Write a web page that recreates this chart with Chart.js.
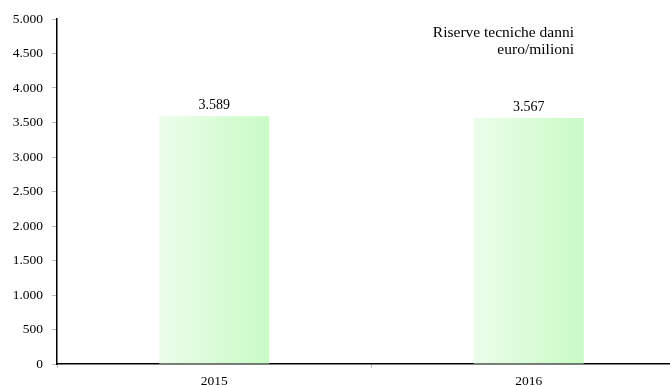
<!DOCTYPE html>
<html>
<head>
<meta charset="utf-8">
<script src="https://cdn.jsdelivr.net/npm/chart.js@4.4.0/dist/chart.umd.min.js"></script>
<style>
  html, body { margin: 0; padding: 0; background: #fff; overflow: hidden; }
  #wrap { position: relative; width: 690px; height: 385px; }
</style>
</head>
<body>
<div id="wrap"><canvas id="riserve" width="690" height="385"></canvas></div>
<script>
var anni = ['2015', '2016'];
var riserve = [3589, 3567];
var titolo = ['Riserve tecniche danni', 'euro/milioni'];

// 3589 -> "3.589"
function migliaia(v) {
	return String(Math.round(v)).replace(/\B(?=(\d{3})+(?!\d))/g, '.');
}

var FONT = 'Liberation Serif';

// gradiente orizzontale per ogni barra
function sfumatura(c) {
	var chart = c.chart;
	if (!chart.chartArea) return '#d8fbd8';
	var x = chart.scales.x.getPixelForValue(c.dataIndex);
	var w = chart.scales.x.width / anni.length * 0.35;
	var g = chart.ctx.createLinearGradient(x - w / 2, 0, x + w / 2, 0);
	g.addColorStop(0, '#ecfdea');
	g.addColorStop(1, '#c9fbc6');
	return g;
}

var etichette = {
	id: 'etichette',
	afterDatasetsDraw: function(chart) {
		var ctx = chart.ctx;
		ctx.save();
		ctx.font = '14px "' + FONT + '"';
		ctx.fillStyle = '#000';
		ctx.textAlign = 'center';
		ctx.textBaseline = 'middle';
		chart.getDatasetMeta(0).data.forEach(function(bar, i) {
			ctx.fillText(migliaia(riserve[i]), bar.x, bar.y - 11);
		});
		// titolo in alto a destra
		ctx.font = '15.5px "' + FONT + '"';
		ctx.textAlign = 'right';
		ctx.fillText(titolo[0], 574, 33);
		ctx.fillText(titolo[1], 574, 50);
		ctx.restore();
	}
};

var ctx = document.getElementById('riserve');
new Chart(ctx, {
	type: 'bar',
	data: {
		labels: anni,
		datasets: [{
			data: riserve,
			backgroundColor: sfumatura,
			borderWidth: 0,
			categoryPercentage: 1,
			barPercentage: 0.35
		}]
	},
	options: {
		responsive: false,
		animation: false,
		devicePixelRatio: 1,
		layout: { padding: { top: 19, right: 4, left: 0, bottom: 0 } },
		plugins: { legend: { display: false }, tooltip: { enabled: false } },
		scales: {
			x: {
				grid: { drawOnChartArea: false, tickLength: 4, tickColor: '#bbb', offset: true },
				border: { color: '#000', width: 1.5 },
				ticks: { color: '#000', font: { family: FONT, size: 13.5 }, padding: 5 },
				afterFit: function(s) { s.height = 21; }
			},
			y: {
				min: 0,
				max: 5000,
				grid: { drawOnChartArea: false, tickLength: 5, tickColor: '#bbb' },
				border: { color: '#000', width: 1.5 },
				ticks: {
					stepSize: 500,
					autoSkip: false,
					color: '#000',
					font: { family: FONT, size: 13.5 },
					padding: 9,
					callback: function(v) { return migliaia(v); }
				},
				afterFit: function(s) { s.width = 57; }
			}
		}
	},
	plugins: [etichette]
});
</script>
</body>
</html>
